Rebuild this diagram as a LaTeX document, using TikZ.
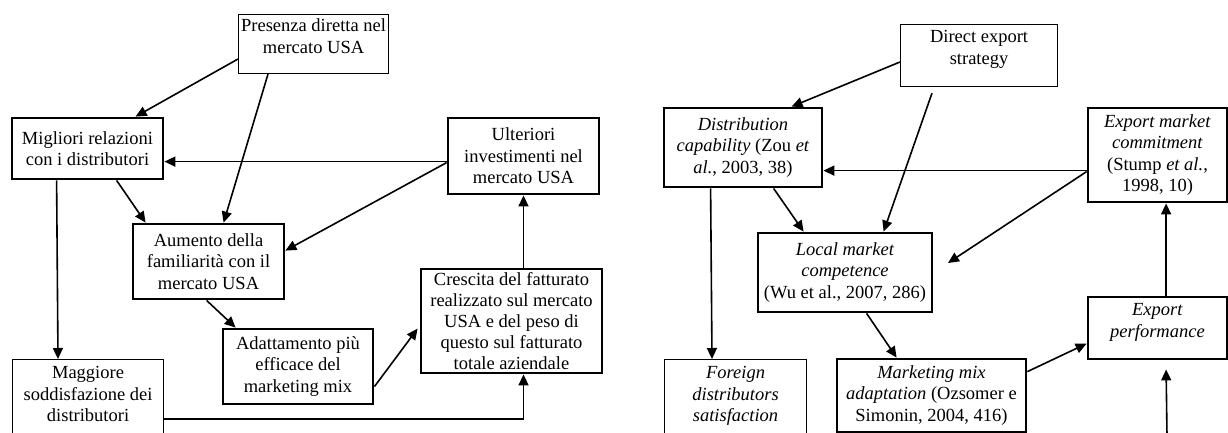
\documentclass[tikz,border=0pt]{standalone}
\usepackage{fontspec}
\setmainfont{Liberation Serif}
\usetikzlibrary{arrows.meta,calc}
\newcommand{\topbox}[4]{\parbox[c][#2][t]{#1}{\centering\rule{0pt}{#3}#4}}
\tikzset{
  txt/.style={font=\fontsize{18.5}{21.5}\selectfont},
  thickbox/.style={txt, draw, inner sep=0pt, align=center, line width=2.8pt},
  thinbox/.style={txt, draw, inner sep=0pt, line width=1.1pt, anchor=north west},
  arr/.style={line width=1.6pt, -{Triangle[length=11pt,width=10pt]}},
}
\begin{document}
\begin{tikzpicture}[x=1pt,y=-1pt]
\useasboundingbox (0,0) rectangle (1228,432);
% ---------------- left diagram ----------------
\node[thinbox] (pres) at (238,14) {\topbox{150pt}{59pt}{17pt}{Presenza diretta nel\\mercato USA}};
\node[thickbox, minimum width=151pt, minimum height=61pt] (migl) at (87.5,148.5) {Migliori relazioni\\con i distributori};
\node[thickbox, minimum width=151pt, minimum height=76pt] (ult) at (523.5,156) {Ulteriori\\investimenti nel\\mercato USA};
\node[thickbox, minimum width=151pt, minimum height=75pt] (aum) at (208.5,261.5) {Aumento della\\familiarità con il\\mercato USA};
\node[thickbox, minimum width=150pt, minimum height=75pt] (adat) at (298,366.5) {Adattamento più\\efficace del\\marketing mix};
\node[thickbox, minimum width=181pt, minimum height=104pt, font=\fontsize{18.5}{21}\selectfont] (cresc) at (511.5,321) {Crescita del fatturato\\realizzato sul mercato\\USA e del peso di\\questo sul fatturato\\totale aziendale};
\node[thinbox] (magg) at (12,359) {\topbox{151pt}{85pt}{19pt}{Maggiore\\soddisfazione dei\\distributori}};

\draw[arr] ($(pres.north west)+(0,45)$) -- ($(migl.north west)+(125,0)$);
\draw[arr] ($(pres.south west)+(30,0)$) -- ($(aum.north west)+(92,0)$);
\draw[arr] ($(migl.south west)+(106,0)$) -- ($(aum.north west)+(14,0)$);
\draw[arr] ($(ult.north west)+(0,45)$) -- ($(migl.north east)+(0,45)$);
\draw[arr] ($(ult.north west)+(0,46)$) -- ($(aum.north east)+(0,28)$);
\draw[arr] ($(migl.south west)+(46,0)$) -- ($(magg.north west)+(46,0)$);
\draw[arr] ($(aum.south west)+(75,0)$) -- ($(adat.north west)+(14,0)$);
\draw[arr] ($(adat.north east)+(0,59)$) -- ($(cresc.north west)+(-2,61)$);
\draw[arr] ($(magg.north east)+(0,60)$) -| (ult.south |- cresc.south);
\draw[arr] (ult.south |- cresc.north) -- (ult.south);
% ---------------- right diagram ----------------
\node[thinbox] (dir) at (900,24) {\topbox{157pt}{62pt}{18pt}{Direct export\\strategy}};
\node[thickbox, minimum width=158pt, minimum height=79pt] (dist) at (743,147.5) {\textit{Distribution}\\\textit{capability} (Zou \textit{et}\\\textit{al.}, 2003, 38)};
\node[thickbox, minimum width=139pt, minimum height=94pt] (commit) at (1157.5,155) {\textit{Export market}\\\textit{commitment}\\(Stump \textit{et al.},\\1998, 10)};
\node[thickbox, minimum width=174pt, minimum height=79pt] (local) at (845,272.5) {\textit{Local market}\\\textit{competence}\\(Wu et al., 2007, 286)};
\node[thinbox] (foreign) at (664,359) {\topbox{142pt}{85pt}{19pt}{\textit{Foreign}\\\textit{distributors}\\\textit{satisfaction}}};
\node[thickbox, minimum width=189pt, minimum height=73pt] (mkt) at (931.5,395.5) {\textit{Marketing mix}\\\textit{adaptation} (Ozsomer e\\Simonin, 2004, 416)};
\node[thickbox, minimum width=139pt, minimum height=62pt] (perf) at (1157.5,328) {\textit{Export}\\\textit{performance}\\[-6pt]\mbox{}};
\coordinate (freeend) at (948,263);
\coordinate (perfin) at (1167,436);

\draw[arr] ($(dir.north west)+(0,38)$) -- ($(dist.north west)+(129,0)$);
\draw[arr] ($(dir.south west)+(32,6)$) -- ($(local.north west)+(127,0)$);
\draw[arr] ($(dist.south west)+(111,0)$) -- ($(local.north west)+(47,0)$);
\draw[arr] ($(commit.north west)+(0,64)$) -- ($(dist.north east)+(0,64)$);
\draw[arr] ($(commit.north west)+(0,65)$) -- (freeend);
\draw[arr] ($(dist.south west)+(48,0)$) -- ($(foreign.north west)+(48,0)$);
\draw[arr] ($(local.south west)+(110,0)$) -- ($(mkt.north west)+(61,0)$);
\draw[arr] ($(mkt.north east)+(0,14)$) -- ($(perf.north west)+(0,48)$);
\draw[arr] ($(perf.north west)+(79.5,0)$) -- ($(commit.south west)+(79.5,0)$);
\draw[arr] (perfin) -- ($(perf.south west)+(79.5,9)$);
\end{tikzpicture}
\end{document}
